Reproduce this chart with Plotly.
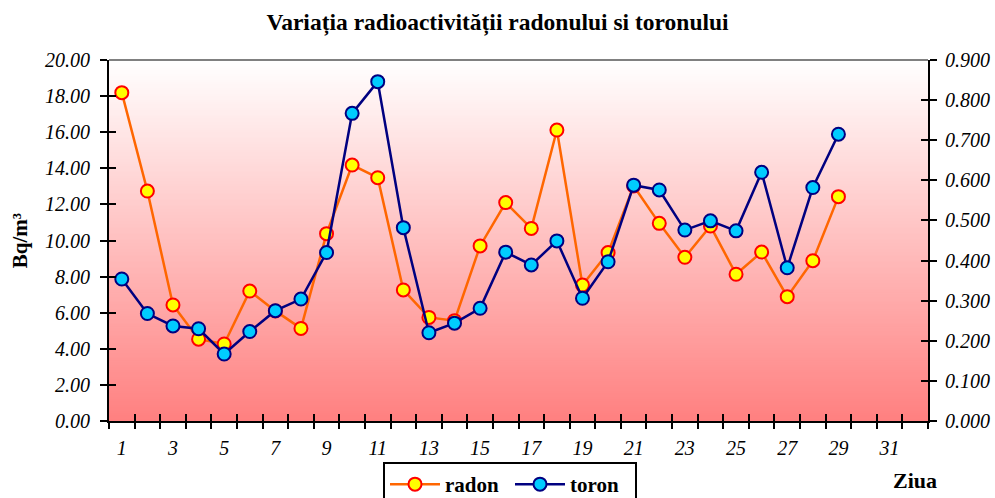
import plotly.graph_objects as go

days = list(range(1, 30))
radon = [18.19, 12.74, 6.43, 4.53, 4.27, 7.20, 6.10, 5.13, 10.38, 14.18,
         13.48, 7.26, 5.74, 5.56, 9.70, 12.10, 10.67, 16.12, 7.53, 9.33,
         13.02, 10.95, 9.07, 10.80, 8.13, 9.36, 6.89, 8.88, 12.43]
toron = [0.354, 0.268, 0.237, 0.230, 0.167, 0.223, 0.275, 0.304, 0.420, 0.767,
         0.846, 0.482, 0.220, 0.244, 0.281, 0.421, 0.389, 0.449, 0.306, 0.397,
         0.588, 0.576, 0.476, 0.499, 0.474, 0.620, 0.382, 0.582, 0.715]
x_labels = list(range(1, 32, 2))
n_categories = 32

FONT = "Liberation Serif"
fig = go.Figure()

fig.add_trace(go.Scatter(
    x=days, y=radon, name="radon", mode="lines+markers",
    line=dict(color="#FF6600", width=2.5),
    marker=dict(size=13, color="#FFFF00", line=dict(color="#FF0000", width=2)),
    xaxis="x", yaxis="y"))
fig.add_trace(go.Scatter(
    x=days, y=toron, name="toron", mode="lines+markers",
    line=dict(color="#000080", width=2.5),
    marker=dict(size=13, color="#00CCFF", line=dict(color="#000080", width=2)),
    xaxis="x", yaxis="y2"))

# invisible helper traces so overlay tick axes are rendered
for xa, ya in [("x2", "y3"), ("x3", "y4")]:
    fig.add_trace(go.Scatter(x=[None], y=[None], xaxis=xa, yaxis=ya,
                             showlegend=False, hoverinfo="skip"))

# gradient background stripes
n = 180
shapes = []
for i in range(n):
    t = i / (n - 1)  # 0 bottom -> 1 top
    g = int(round(128 + (255 - 128) * t))
    shapes.append(dict(type="rect", xref="paper", yref="paper",
                       x0=0, x1=1, y0=i / n, y1=(i + 1.6) / n,
                       fillcolor=f"rgb(255,{g},{g})", line=dict(width=0),
                       layer="below"))
shapes.append(dict(type="line", xref="paper", yref="paper", x0=0, x1=1,
                   y0=1, y1=1, line=dict(color="#808080", width=2)))

half_ticks = [i + 0.5 for i in range(n_categories + 1)]
xr = [0.5, n_categories + 0.5]
tickfont = dict(family=FONT, size=20, color="black", style="italic")

fig.update_layout(
    width=995, height=498,
    margin=dict(l=109, r=67, t=60, b=77, autoexpand=False),
    paper_bgcolor="white", plot_bgcolor="rgba(0,0,0,0)",
    shapes=shapes,
    title=dict(text="<b>Variația radioactivității radonului si toronului</b>",
               x=0.5, xanchor="center", y=1 - 22 / 498, yanchor="middle",
               font=dict(family=FONT, size=23.5, color="black")),
    xaxis=dict(range=xr, tickvals=x_labels, ticktext=[str(v) for v in x_labels],
               ticks="", showgrid=False, zeroline=False, showline=True,
               linecolor="black", linewidth=2, tickfont=tickfont, ticklabelstandoff=8),
    xaxis2=dict(range=xr, overlaying="x", anchor="y", tickvals=half_ticks,
                ticks="outside", ticklen=7, tickwidth=2, tickcolor="black",
                showticklabels=False, showgrid=False, zeroline=False, showline=False),
    xaxis3=dict(range=xr, overlaying="x", anchor="y", tickvals=half_ticks,
                ticks="inside", ticklen=7, tickwidth=2, tickcolor="black",
                showticklabels=False, showgrid=False, zeroline=False, showline=False),
    yaxis=dict(range=[0, 20], dtick=2, tick0=0, tickformat=".2f",
               ticks="outside", ticklen=7, tickwidth=2, tickcolor="black",
               showgrid=False, zeroline=False, showline=True, linecolor="black",
               linewidth=2, tickfont=tickfont, ticklabelstandoff=6,
               title=dict(text="<b>Bq/m³</b>", font=dict(family=FONT, size=21, color="black"),
                          standoff=12)),
    yaxis2=dict(range=[0, 0.9], dtick=0.1, tick0=0, tickformat=".3f",
                overlaying="y", side="right", anchor="x",
                ticks="outside", ticklen=7, tickwidth=2, tickcolor="black",
                showgrid=False, zeroline=False, showline=True, linecolor="black",
                linewidth=2, tickfont=tickfont, ticklabelstandoff=4),
    yaxis3=dict(range=[0, 20], dtick=2, tick0=0, overlaying="y", side="left",
                anchor="x2", ticks="inside", ticklen=7, tickwidth=2, tickcolor="black",
                showticklabels=False, showgrid=False, zeroline=False, showline=False),
    yaxis4=dict(range=[0, 0.9], dtick=0.1, tick0=0, overlaying="y", side="right",
                anchor="x3", ticks="inside", ticklen=7, tickwidth=2, tickcolor="black",
                showticklabels=False, showgrid=False, zeroline=False, showline=False),
    legend=dict(orientation="h", x=(383 - 109) / 819, y=(421 - 462) / 361,
                xanchor="left", yanchor="top",
                bgcolor="white", bordercolor="black", borderwidth=2,
                font=dict(family=FONT, size=21, color="black", weight="bold"),
                itemwidth=50, entrywidth=60, entrywidthmode="pixels",
                tracegroupgap=0),
    annotations=[dict(text="<b>Ziua</b>", xref="paper", yref="paper",
                      x=(915 - 109) / 819, y=(421 - 480) / 361,
                      xanchor="center", yanchor="middle", showarrow=False,
                      font=dict(family=FONT, size=22, color="black"))],
    showlegend=True,
)

fig.write_html("out.html", config={"displayModeBar": False},
               post_script="document.body.style.margin='0';document.body.style.overflow='hidden';")
